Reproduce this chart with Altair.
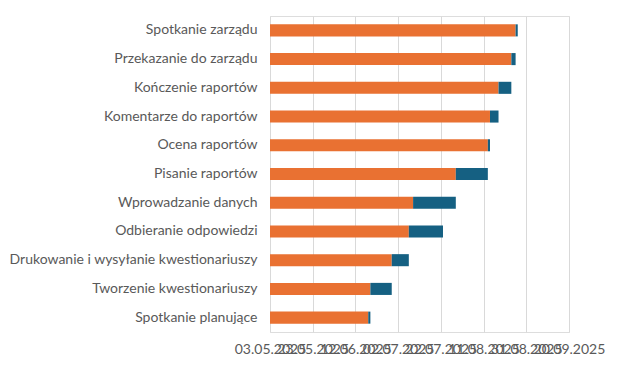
import altair as alt
import pandas as pd

# Tasks in chronological order (bottom to top in the chart)
tasks = [
    "Spotkanie planujące",
    "Tworzenie kwestionariuszy",
    "Drukowanie i wysyłanie kwestionariuszy",
    "Odbieranie odpowiedzi",
    "Wprowadzanie danych",
    "Pisanie raportów",
    "Ocena raportów",
    "Komentarze do raportów",
    "Kończenie raportów",
    "Przekazanie do zarządu",
    "Spotkanie zarządu",
]
start_dates = [
    "2025-06-18", "2025-06-19", "2025-06-29", "2025-07-07", "2025-07-09",
    "2025-07-29", "2025-08-13", "2025-08-14", "2025-08-18", "2025-08-24",
    "2025-08-26",
]
durations = [1, 10, 8, 16, 20, 15, 1, 4, 6, 2, 1]

axis_start = "2025-05-03"
axis_end = "2025-09-20"
tick_dates = [
    "2025-05-03", "2025-05-23", "2025-06-12", "2025-07-02",
    "2025-07-22", "2025-08-11", "2025-08-31", "2025-09-20",
]

def ms(d):
    return int(pd.Timestamp(d, tz="UTC").value // 10**6)

df = pd.DataFrame({"task": tasks, "start": start_dates, "days": durations})
df["end"] = (pd.to_datetime(df["start"]) + pd.to_timedelta(df["days"], unit="D")).dt.strftime("%Y-%m-%d")
df["origin"] = axis_start

order = list(reversed(tasks))
font = "Lato"

x_scale = alt.Scale(type="utc", domain=[ms(axis_start), ms(axis_end)])
x_axis = alt.Axis(
    title=None, values=[ms(d) for d in tick_dates],
    labelExpr="utcFormat(datum.value, '%d.%m.%Y')",
    labelOverlap=False, labelFlush=False, domain=False, ticks=False,
    grid=True, gridColor="#D9D9D9", gridWidth=1,
    labelColor="#595959", labelFontSize=14, labelFont=font, labelPadding=10,
)
y_enc = alt.Y(
    "task:N", sort=order, title=None,
    scale=alt.Scale(paddingInner=0.58, paddingOuter=0.29),
    axis=alt.Axis(ticks=False, domain=False, grid=False, labelColor="#595959",
                  labelFontSize=14, labelFont=font, labelPadding=13, labelLimit=400),
)

base = alt.Chart(df)
orange = base.mark_bar(color="#E97132").encode(
    x=alt.X("origin:T", scale=x_scale, axis=x_axis),
    x2="start:T",
    y=y_enc,
)
blue = base.mark_bar(color="#156082").encode(
    x=alt.X("start:T", scale=x_scale, axis=x_axis),
    x2="end:T",
    y=y_enc,
)

chart = (
    alt.layer(orange, blue)
    .properties(
        width=299, height=316,
        autosize=alt.AutoSizeParams(type="none"),
        padding={"left": 262, "top": 8, "right": 41, "bottom": 26},
    )
    .configure_view(stroke=None)
    .configure(background="white")
)

chart.save("out.html", embed_options={"renderer": "svg", "actions": False})
